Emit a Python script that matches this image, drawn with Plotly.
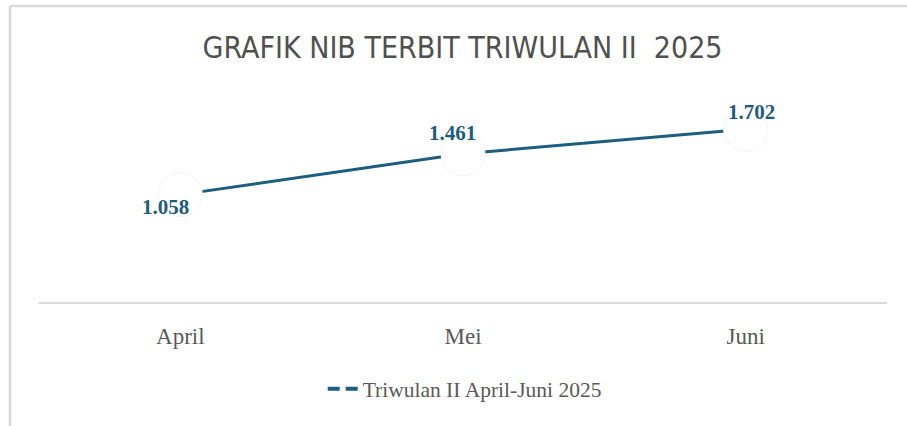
import plotly.graph_objects as go

# ---- data ----
months = ["April", "Mei", "Juni"]
nib_terbit = [1058, 1461, 1702]
series_name = "Triwulan II April-Juni 2025"
chart_title = "GRAFIK NIB TERBIT TRIWULAN II\u00a0\u00a02025"

LINE_COLOR = "#1D5D7D"
GREY_TXT = "#595959"
SERIF = "Liberation Serif, Times New Roman, serif"

labels = [f"{v:,}".replace(",", ".") for v in nib_terbit]
# manual label offsets (px) as in the reference
label_shift = [(-15, -12), (-11, 21), (6, 17)]

fig = go.Figure()

# main line with big white markers that mask the line near the points
fig.add_trace(go.Scatter(
    x=months, y=nib_terbit, mode="lines+markers",
    line=dict(color=LINE_COLOR, width=3),
    marker=dict(size=44, color="white", line=dict(color="#f5f5f5", width=1)),
    showlegend=False, hoverinfo="skip", cliponaxis=False,
))
# legend entry (dashed symbol)
fig.add_trace(go.Scatter(
    x=[None], y=[None], mode="lines", name=series_name,
    line=dict(color=LINE_COLOR, width=4, dash="12px,6px"),
))

for m, v, t, (dx, dy) in zip(months, nib_terbit, labels, label_shift):
    fig.add_annotation(
        x=m, y=v, text=f"<b>{t}</b>", showarrow=False,
        xshift=dx, yshift=dy,
        font=dict(family=SERIF, size=21, color=LINE_COLOR),
    )

# outer chart-area frame (top and left edges visible)
frame = "#d9d9d9"
fig.add_shape(type="line", xref="paper", yref="paper",
              x0=-0.0342, x1=1.025, y0=1.458, y1=1.458,
              line=dict(color=frame, width=2.5))
fig.add_shape(type="line", xref="paper", yref="paper",
              x0=-0.0342, x1=-0.0342, y0=1.458, y1=-0.62,
              line=dict(color=frame, width=2.5))

fig.update_layout(
    width=907, height=426,
    margin=dict(l=39, r=20, t=99, b=124, autoexpand=False),
    paper_bgcolor="white", plot_bgcolor="white",
    title=dict(
        text=chart_title, x=0.51, xanchor="center", y=0.889, yanchor="middle",
        font=dict(family="Liberation Sans Narrow, DejaVu Sans Condensed, Arial Narrow, sans-serif",
                  size=30, color="#505050"),
    ),
    xaxis=dict(
        range=[-0.5, 2.5],
        showgrid=False, zeroline=False, showline=True, linecolor="#d9d9d9", linewidth=2,
        tickfont=dict(family=SERIF, size=23, color=GREY_TXT),
        ticks="", ticklabelstandoff=12, fixedrange=True,
    ),
    yaxis=dict(range=[0, 2000], showgrid=False, zeroline=False, showticklabels=False,
               showline=False, fixedrange=True),
    legend=dict(
        orientation="h", x=0.502, xanchor="center", y=-0.428, yanchor="middle",
        font=dict(family=SERIF, size=21.5, color=GREY_TXT),
        bgcolor="rgba(0,0,0,0)",
    ),
    showlegend=True,
)

fig.write_html("out.html", config={"displayModeBar": False},
               post_script="document.body.style.margin='0';")
